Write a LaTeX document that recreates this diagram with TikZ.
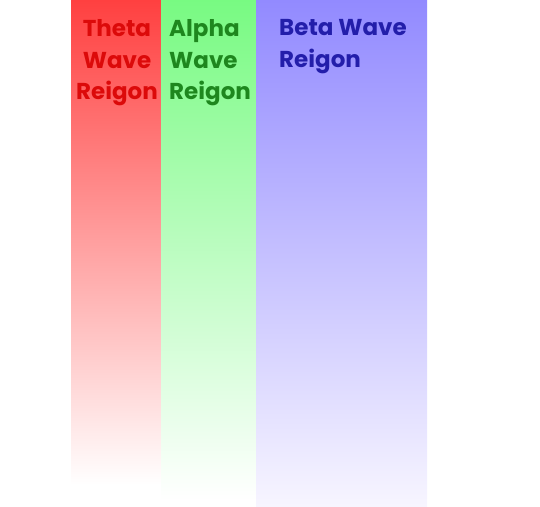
\documentclass[tikz,border=0pt]{standalone}
\usepackage{fontspec}
\setmainfont{Poppins}
\begin{document}
\begin{tikzpicture}[x=1pt,y=-1pt,
  lbl/.style={font=\fontsize{23}{31.5}\selectfont\bfseries, inner sep=0pt, align=left},
  col/.style={draw=none}]
\useasboundingbox (0,0) rectangle (540,506);
\shade[col, top color={rgb,255:red,255;green,64;blue,64}, bottom color=white] (71,0) rectangle (161,485);
\shade[col, top color={rgb,255:red,120;green,250;blue,130}, bottom color=white] (161,0) rectangle (256,500);
\shade[col, top color={rgb,255:red,146;green,138;blue,255}, bottom color={rgb,255:red,247;green,245;blue,255}] (256,0) rectangle (427,506);
\node[lbl, align=center, text={rgb,255:red,220;green,10;blue,10}, anchor=north] (theta) at (117,19.5) {Theta\\Wave\\Reigon};
\node[lbl, text={rgb,255:red,30;green,135;blue,30}, anchor=north west] (alpha) at (169,19.5) {Alpha\\Wave\\Reigon};
\node[lbl, text={rgb,255:red,35;green,30;blue,170}, anchor=north west] (beta) at (279,19.5) {Beta Wave\\Reigon};
\end{tikzpicture}
\end{document}
